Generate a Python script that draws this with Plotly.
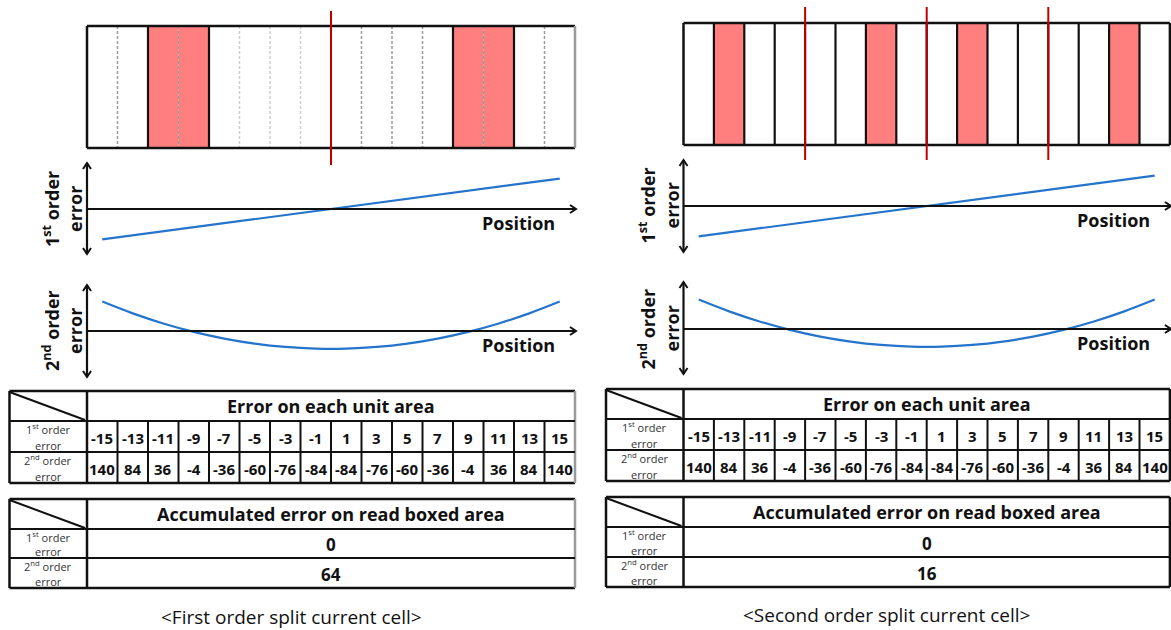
import html
import plotly.graph_objects as go

# ---------------- data ----------------
units = list(range(16))
first_order_error = [-15, -13, -11, -9, -7, -5, -3, -1, 1, 3, 5, 7, 9, 11, 13, 15]
second_order_error = [140, 84, 36, -4, -36, -60, -76, -84, -84, -76, -60, -36, -4, 36, 84, 140]
row_labels = [("1<sup>st</sup> order", "error"), ("2<sup>nd</sup> order", "error")]
axis_labels = [("1<sup>st</sup> order", "error"), ("2<sup>nd</sup> order", "error")]
axis_name = "Position"
table1_title = "Error on each unit area"
table2_title = "Accumulated error on read boxed area"

# panel A : first order split
a_red_cells = [2, 3, 12, 13]
a_solid_bounds = [0, 2, 4, 12, 14, 16]
a_dashed_bounds = [1, 3, 9, 10, 11, 13, 15]
a_faint_bounds = [5, 6, 7]
a_split_lines = [8]
a_accum = [0, 64]
a_caption = "<First order split current cell>"

# panel B : second order split
b_red_cells = [1, 6, 9, 14]
b_solid_bounds = list(range(17))
b_dashed_bounds = []
b_faint_bounds = []
b_split_lines = [4, 8, 12]
b_accum = [0, 16]
b_caption = "<Second order split current cell>"

# ---------------- styling / geometry ----------------
FONT = "Open Sans"
BLACK = "#111111"
RED_FILL = "#FF7F7F"
RED_LINE = "#C00000"
BLUE = "#2474CC"
S1 = 2.03   # px per unit, 1st-order graph
S2 = 0.21   # px per unit, 2nd-order graph

panels = [
    dict(x0=87, cw=30.5, lx0=9.5, box=(26, 148), split=(11, 165),
         g1=(163, 254, 209), g2=(285, 377, 331),
         t1=(391, 421, 452, 483), t2=(499, 529, 558, 588), cap=617,
         edge="#9a9a9a",
         red=a_red_cells, solid=a_solid_bounds, dashed=a_dashed_bounds,
         faint=a_faint_bounds, splits=a_split_lines, accum=a_accum, caption=a_caption),
    dict(x0=683.5, cw=30.4, lx0=606, box=(23, 145), split=(7, 160),
         g1=(160, 252, 206), g2=(282, 374, 329),
         t1=(389, 419, 450, 481), t2=(497, 527, 557, 587), cap=615,
         edge=BLACK,
         red=b_red_cells, solid=b_solid_bounds, dashed=b_dashed_bounds,
         faint=b_faint_bounds, splits=b_split_lines, accum=b_accum, caption=b_caption),
]

fig = go.Figure()
shapes = []
ann = []


def line(x0, y0, x1, y1, color=BLACK, width=2, dash=None, layer="above"):
    d = dict(type="line", x0=x0, y0=y0, x1=x1, y1=y1, xref="x", yref="y",
             line=dict(color=color, width=width), layer=layer)
    if dash:
        d["line"]["dash"] = dash
    shapes.append(d)


def path(p, color=BLACK, width=2):
    shapes.append(dict(type="path", path=p, xref="x", yref="y",
                       line=dict(color=color, width=width)))


def text(x, y, t, size, bold=False, color=BLACK, angle=0, xanchor="center"):
    if bold:
        t = "<b>" + t + "</b>"
    ann.append(dict(x=x, y=y, xref="x", yref="y", text=t, showarrow=False,
                    xanchor=xanchor, yanchor="middle", textangle=angle,
                    font=dict(family=FONT, size=size, color=color)))


def row_label(xc, ytop, ybot, lab):
    text(xc, ytop + 7.5, lab[0], 11, color="#333333")
    text(xc, ybot - 7, lab[1], 11, color="#333333")


for P in panels:
    x0, cw, lx0 = P["x0"], P["cw"], P["lx0"]
    ux = lambda u: x0 + u * cw
    xr = ux(16)
    by0, by1 = P["box"]

    # ----- top box -----
    for c in P["red"]:
        shapes.append(dict(type="rect", x0=ux(c), x1=ux(c + 1), y0=by0, y1=by1,
                           xref="x", yref="y", fillcolor=RED_FILL,
                           line=dict(width=0), layer="below"))
    for u in P["dashed"]:
        line(ux(u), by0, ux(u), by1, color="#9a9a9a", width=1.5, dash="3px,2px")
    for u in P["faint"]:
        line(ux(u), by0, ux(u), by1, color="#cfcfcf", width=1.5, dash="3px,2px")
    for u in P["solid"]:
        if u in (0, 16):
            continue
        line(ux(u), by0, ux(u), by1, width=2.2)
    line(x0, by0, xr, by0, width=2.5)
    line(x0, by1, xr, by1, width=2.5)
    line(x0, by0, x0, by1, width=2.5)
    line(xr, by0, xr, by1, color=P["edge"], width=2.5)
    for u in P["splits"]:
        line(ux(u), P["split"][0], ux(u), P["split"][1], color=RED_LINE, width=2)

    # ----- graphs -----
    centers = [ux(u + 0.5) for u in units]
    for k, (g, vals, sc, shape) in enumerate([(P["g1"], first_order_error, S1, "linear"),
                                              (P["g2"], second_order_error, S2, "spline")]):
        gt, gb, ga = g
        # vertical double arrow
        line(x0, gt, x0, gb, width=2.2)
        path(f"M {x0-4},{gt+6} L {x0},{gt} L {x0+4},{gt+6}", width=2)
        path(f"M {x0-4},{gb-6} L {x0},{gb} L {x0+4},{gb-6}", width=2)
        # horizontal axis
        xe = xr + 1
        line(x0, ga, xe, ga, width=2.2)
        path(f"M {xe-6},{ga-4} L {xe},{ga} L {xe-6},{ga+4}", width=2)
        text(xr - 18, ga + 14, axis_name, 18, bold=True, xanchor="right")
        text(x0 - 36, ga, axis_labels[k][0], 18, bold=True, angle=-90)
        text(x0 - 12, ga, axis_labels[k][1], 18, bold=True, angle=-90)
        fig.add_trace(go.Scatter(
            x=centers, y=[ga - v * sc for v in vals], mode="lines",
            line=dict(color=BLUE, width=2.2, shape=shape, smoothing=1.0),
            hoverinfo="skip", showlegend=False))

    # ----- table 1 -----
    ty0, ty1, ty2, ty3 = P["t1"]
    line(lx0, ty0, xr, ty0, width=2.5)
    line(lx0, ty3, xr, ty3, width=2.5)
    line(lx0, ty0, lx0, ty3, width=2.5)
    line(xr, ty0, xr, ty3, color=P["edge"], width=2.5)
    line(lx0, ty1, xr, ty1, width=2)
    line(lx0, ty2, xr, ty2, width=2)
    line(x0, ty0, x0, ty3, width=2.5)
    line(lx0, ty0 + 1, x0 - 2, ty1 - 1, width=2)
    for u in range(1, 16):
        line(ux(u), ty1, ux(u), ty3, width=2)
    text(ux(8), (ty0 + ty1) / 2, table1_title, 18, bold=True)
    for i, (v1, v2) in enumerate(zip(first_order_error, second_order_error)):
        text(ux(i + 0.5), (ty1 + ty2) / 2 + 1, str(v1), 15, bold=True)
        text(ux(i + 0.5), (ty2 + ty3) / 2 + 1, str(v2), 15, bold=True)
    xc = (lx0 + x0) / 2
    row_label(xc, ty1, ty2, row_labels[0])
    row_label(xc, ty2, ty3, row_labels[1])

    # ----- table 2 -----
    sy0, sy1, sy2, sy3 = P["t2"]
    line(lx0, sy0, xr, sy0, width=2.5)
    line(lx0, sy3, xr, sy3, width=2.5)
    line(lx0, sy0, lx0, sy3, width=2.5)
    line(xr, sy0, xr, sy3, color=P["edge"], width=2.5)
    line(lx0, sy1, xr, sy1, width=2)
    line(lx0, sy2, xr, sy2, width=2)
    line(x0, sy0, x0, sy3, width=2.5)
    line(lx0, sy0 + 1, x0 - 2, sy1 - 1, width=2)
    text(ux(8), (sy0 + sy1) / 2, table2_title, 18, bold=True)
    text(ux(8), (sy1 + sy2) / 2 + 1, str(P["accum"][0]), 17, bold=True)
    text(ux(8), (sy2 + sy3) / 2 + 1, str(P["accum"][1]), 17, bold=True)
    row_label(xc, sy1, sy2, row_labels[0])
    row_label(xc, sy2, sy3, row_labels[1])

    # ----- caption -----
    text((lx0 + xr) / 2 - 1, P["cap"], html.escape(P["caption"]), 19)

fig.update_layout(
    width=1171, height=630, autosize=False,
    margin=dict(l=0, r=0, t=0, b=0),
    paper_bgcolor="white", plot_bgcolor="white",
    shapes=shapes, annotations=ann, showlegend=False,
    xaxis=dict(range=[0, 1171], visible=False, fixedrange=True),
    yaxis=dict(range=[630, 0], visible=False, fixedrange=True),
)
fig.write_html("out.html", config={"displayModeBar": False, "staticPlot": True})
